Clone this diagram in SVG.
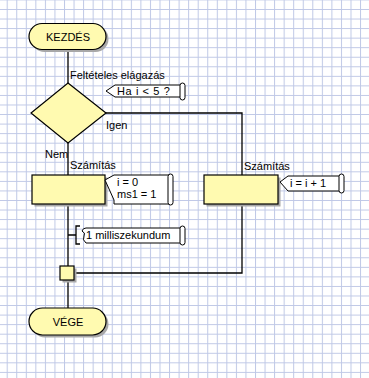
<svg xmlns="http://www.w3.org/2000/svg" width="369" height="378" viewBox="0 0 369 378">
<defs>
<pattern id="grid" patternUnits="userSpaceOnUse" x="6.7" y="9" width="9.55" height="9.55">
<path d="M0.5 0V9.55M0 0.5H9.55" stroke="#bfc8e6" stroke-width="1" fill="none"/>
</pattern>
</defs>
<style>
.sh{fill:#a8a8a8;stroke:none}
.nd{fill:#fffab0;stroke:#000;stroke-width:1.2}
.nt{fill:#fff;stroke:#000;stroke-width:1}
.ln{fill:none;stroke:#000;stroke-width:1.3}
text{font-family:"Liberation Sans",Arial,sans-serif;font-size:11px;fill:#000}
.c{text-anchor:middle}
</style>
<rect width="369" height="378" fill="#fff"/>
<rect width="369" height="378" fill="url(#grid)"/>
<g id="connectors">
<path class="ln" d="M68 50V83M68 143V175M68 204V266M68 280V308"/>
<path class="ln" d="M106 113H242V175M242 204V273H74"/>
<path class="ln" d="M68 235H76M80 226H76V244H80"/>
</g>
<g id="start">
<rect class="sh" x="31.5" y="26" width="77" height="26" rx="13"/>
<rect class="nd" x="29" y="23.5" width="77" height="26" rx="13"/>
<text class="c" x="68" y="40.5">KEZDÉS</text>
</g>
<g id="decision">
<text x="70" y="79">Feltételes elágazás</text>
<polygon class="nd" points="68,83 106,113 68,143 31,113"/>
<text x="106" y="129">Igen</text>
<text x="45" y="158">Nem</text>
<polygon class="nt" points="106,91 115,85 181,85 181,97 115,97"/>
<rect class="nt" x="180" y="83" width="5" height="17" rx="2.5"/>
<text x="117" y="95" letter-spacing="0.6">Ha i &lt; 5 ?</text>
</g>
<g id="calc1">
<text x="70" y="169">Számítás</text>
<rect class="sh" x="34.5" y="177.5" width="73" height="29"/>
<rect class="nd" x="32" y="175" width="73" height="29"/>
<polygon class="nt" points="105,180 114,175 170,175 170,204 114,204 114,200"/>
<rect class="nt" x="168" y="174" width="5" height="31" rx="2.5"/>
<text x="117" y="186">i = 0</text>
<text x="117" y="198">ms1 = 1</text>
</g>
<g id="calc2">
<text x="244" y="170">Számítás</text>
<rect class="sh" x="206.5" y="177.5" width="74" height="29"/>
<rect class="nd" x="204" y="175" width="74" height="29"/>
<polygon class="nt" points="280,182 288,176 341,176 341,191 288,191"/>
<rect class="nt" x="339" y="174" width="5" height="19" rx="2.5"/>
<text x="290" y="187">i = i + 1</text>
</g>
<g id="delay">
<path class="nt" d="M86 228H181V243H86Q82 240 84 236Q86 233 82 231Q83 228 86 228Z"/>
<rect class="nt" x="180" y="226" width="5" height="19" rx="2.5"/>
<text x="86" y="239">1 milliszekundum</text>
</g>
<g id="junction">
<rect class="sh" x="62.5" y="268.5" width="14" height="14"/>
<rect class="nd" x="60" y="266" width="14" height="14"/>
</g>
<g id="end">
<rect class="sh" x="31.5" y="310.5" width="77" height="27" rx="13.5"/>
<rect class="nd" x="29" y="308" width="77" height="27" rx="13.5"/>
<text class="c" x="68" y="325.5">VÉGE</text>
</g>
</svg>
